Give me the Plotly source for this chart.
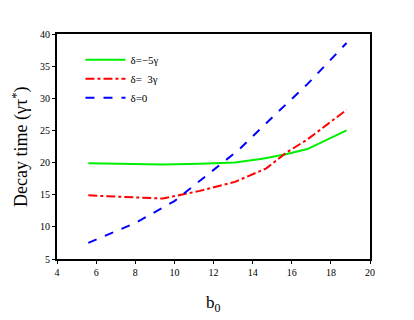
import plotly.graph_objects as go

# b0 values for each curve
b0_green = [5.6, 7.5, 9.4, 11.3, 13.1, 14.5, 15.7, 16.8, 18.8]
decay_green = [19.9, 19.8, 19.7, 19.8, 20.0, 20.6, 21.3, 22.1, 25.0]

b0_red = [5.6, 7.5, 9.4, 11.3, 13.1, 14.7, 15.7, 16.8, 18.8]
decay_red = [14.9, 14.7, 14.4, 15.6, 17.0, 19.1, 21.5, 23.6, 28.2]

b0_blue = [5.6, 8.0, 10.0, 12.4, 13.3, 15.2, 16.8, 18.8]
decay_blue = [7.5, 10.6, 14.0, 19.9, 22.0, 27.6, 32.2, 38.6]

names = ["δ=−5γ", "δ=  3γ", "δ=0"]

serif = "Liberation Serif, Times New Roman, serif"

fig = go.Figure()
fig.add_trace(go.Scatter(x=b0_green, y=decay_green, mode="lines", name=names[0],
                         line=dict(color="#00ee00", width=2)))
fig.add_trace(go.Scatter(x=b0_red, y=decay_red, mode="lines", name=names[1],
                         line=dict(color="#ff0000", width=2, dash="dashdot")))
fig.add_trace(go.Scatter(x=b0_blue, y=decay_blue, mode="lines", name=names[2],
                         line=dict(color="#0000ff", width=2, dash="dash")))

axis_style = dict(
    showline=True, linecolor="black", linewidth=2, mirror=True,
    ticks="outside", ticklen=3, tickwidth=1, tickcolor="black",
    showgrid=False, zeroline=False, automargin=False,
    tickfont=dict(family=serif, size=10, color="black"),
)

fig.update_xaxes(range=[4, 20], dtick=2, **axis_style)
fig.update_yaxes(range=[5, 40], dtick=5, **axis_style)

# axis titles as annotations so the plot area stays fixed
fig.add_annotation(text="b<sub>0</sub>", xref="paper", yref="paper",
                   x=0.5, y=-0.14, xanchor="center", yanchor="top", showarrow=False,
                   font=dict(family=serif, size=17, color="black"))
fig.add_annotation(text="Decay time (γτ<sup>*</sup>)", xref="paper", yref="paper",
                   x=-0.117, y=0.5, xanchor="center", yanchor="middle", showarrow=False,
                   textangle=-90, font=dict(family=serif, size=18, color="black"))

# page body adds an 8px margin, so the figure is 8px smaller than the window
fig.update_layout(
    width=406, height=312,
    margin=dict(l=49, r=44, t=26, b=61, autoexpand=False),
    plot_bgcolor="white", paper_bgcolor="white",
    showlegend=True,
    legend=dict(x=0.075, y=0.95, xanchor="left", yanchor="top",
                bgcolor="rgba(0,0,0,0)", font=dict(family=serif, size=11, color="black"),
                itemwidth=40, tracegroupgap=0),
)

fig.write_html("out.html")
